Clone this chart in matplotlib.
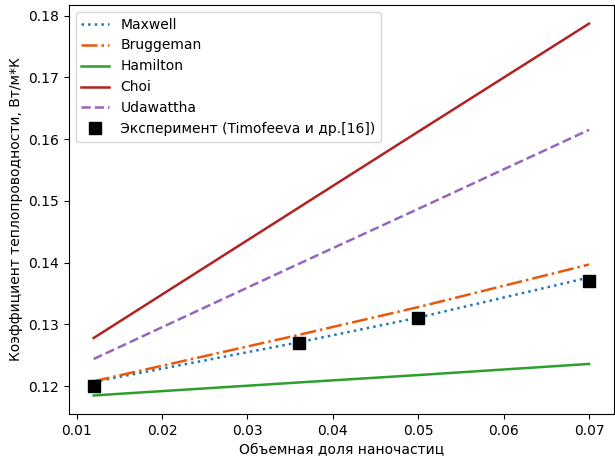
import matplotlib
matplotlib.use("Agg")
import matplotlib.pyplot as plt

x_model = [0.012, 0.036, 0.05, 0.07]
maxwell = [0.1207, 0.1271, 0.1311, 0.1376]
bruggeman = [0.1208, 0.1283, 0.1328, 0.1397]
hamilton = [0.1185, 0.1206, 0.1218, 0.1236]
choi = [0.1278, 0.1489, 0.1612, 0.1787]
udawattha = [0.1244, 0.1398, 0.1487, 0.1615]

x_exp = [0.012, 0.036, 0.05, 0.07]
y_exp = [0.1200, 0.1270, 0.1310, 0.1370]

fig = plt.figure(figsize=(6.15, 4.58), dpi=100)
ax = fig.add_axes([0.112, 0.096, 0.886, 0.893])

ax.plot(x_model, maxwell, linestyle=':', color='#1f77b4', lw=1.8, label='Maxwell')
ax.plot(x_model, bruggeman, linestyle='-.', color='#e8590c', lw=1.8, label='Bruggeman')
ax.plot(x_model, hamilton, linestyle='-', color='#2ca02c', lw=1.8, label='Hamilton')
ax.plot(x_model, choi, linestyle='-', color='#b22222', lw=1.8, label='Choi')
ax.plot(x_model, udawattha, linestyle='--', color='#9467bd', lw=1.8, label='Udawattha')
ax.plot(x_exp, y_exp, 's', color='black', markersize=8, linestyle='none',
        label='Эксперимент (Timofeeva и др.[16])')

ax.set_xlabel('Объемная доля наночастиц')
ax.set_ylabel('Коэффициент теплопроводности, Вт/м*К')
ax.legend(loc='upper left')

fig.savefig('out.png', dpi=100)
